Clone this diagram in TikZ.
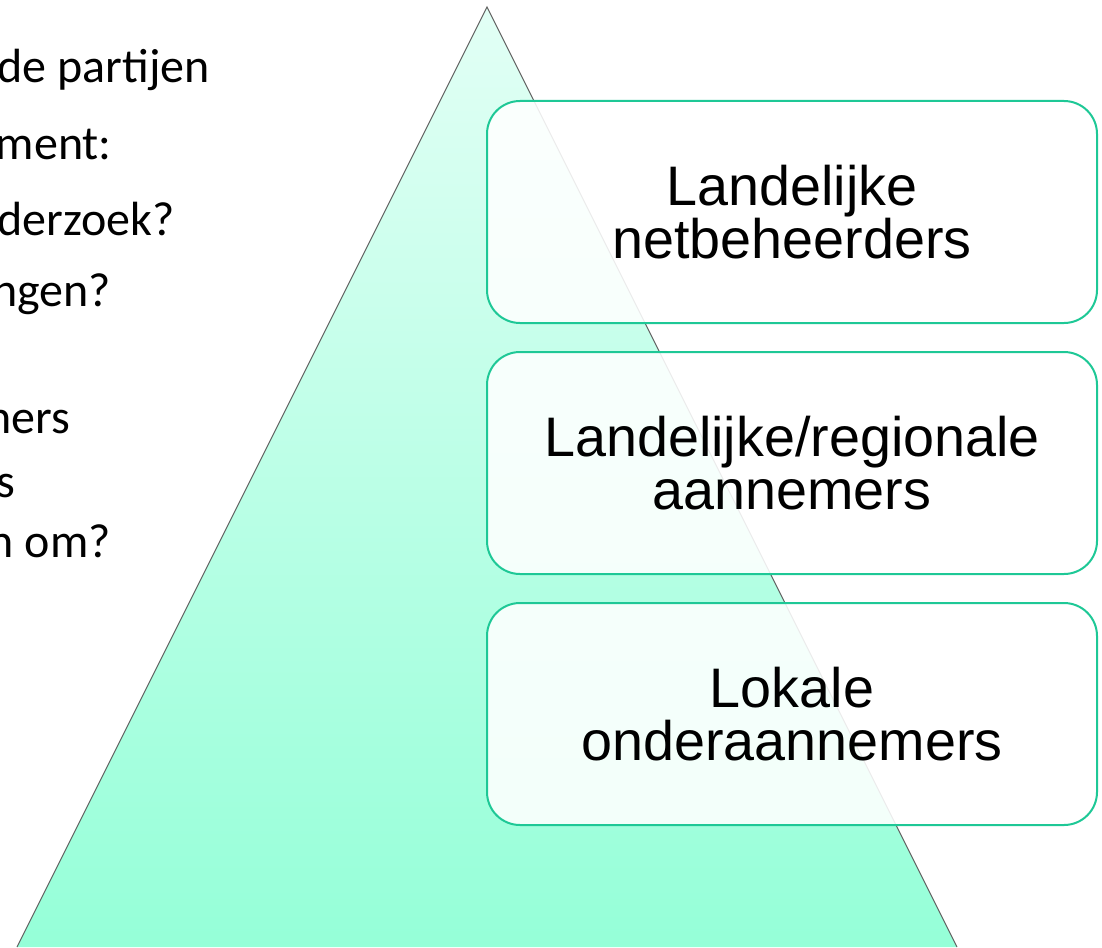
\documentclass[tikz,border=0pt]{standalone}
\usepackage{fontspec}
\newfontfamily\boxfont{Liberation Sans}
\newfontfamily\leftfont{Carlito}
\definecolor{triLight}{HTML}{E2FFF5}
\definecolor{triDark}{HTML}{95FFD8}
\definecolor{boxBorder}{RGB}{30,200,150}
\tikzset{
  tier/.style={draw=boxBorder, line width=2pt, rounded corners=33pt,
    fill=white, fill opacity=0.88, text opacity=1, draw opacity=1,
    minimum width=610pt, minimum height=222pt, inner sep=0pt,
    align=center, font=\boxfont\fontsize{55.7}{53}\selectfont},
  lefttxt/.style={anchor=base east, inner sep=0pt, font=\leftfont\fontsize{48}{56}\selectfont}
}
\begin{document}
\begin{tikzpicture}[x=1pt,y=-1pt]
\useasboundingbox (0,0) rectangle (1102,947);
% left text (cut off at the left edge)
\node[lefttxt] (t1) at (210,83) {de partijen};
\node[lefttxt] (t2) at (112,159) {ment:};
\node[lefttxt] (t3) at (175,235) {derzoek?};
\node[lefttxt] (t4) at (111,306) {ngen?};
\node[lefttxt] (t5) at (70,433) {ners};
\node[lefttxt] (t6) at (15,497) {s};
\node[lefttxt] (t7) at (111,557) {n om?};
% pyramid
\shade[top color=triLight, bottom color=triDark] (487,7) -- (957,947) -- (17,947) -- cycle;
\draw[black!62, line width=1pt, line join=miter] (17,947) -- (487,7) -- (957,947);
% tiers
\node[tier] (b1) at (792,212) {Landelijke\\netbeheerders};
\node[tier] (b2) at (792,463) {Landelijke/regionale\\aannemers};
\node[tier] (b3) at (792,714) {Lokale\\onderaannemers};
\end{tikzpicture}
\end{document}
